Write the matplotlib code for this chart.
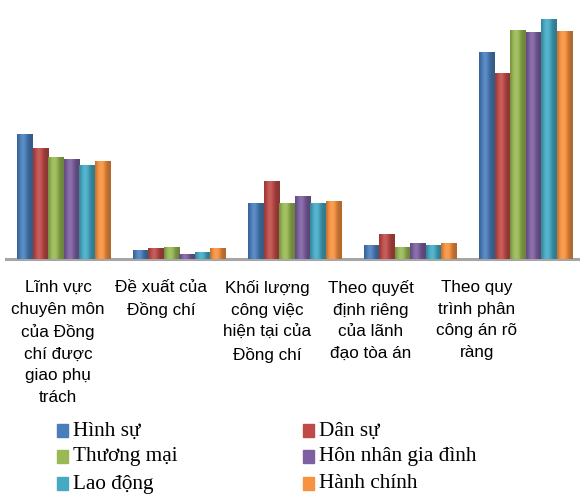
import numpy as np
import matplotlib
matplotlib.use("Agg")
import matplotlib.pyplot as plt
from matplotlib.colors import to_rgb
from matplotlib.patches import Rectangle

# share of answers (%) per basis of case assignment, one list per court type
categories = [
    "Lĩnh vực\nchuyên môn\ncủa Đồng\nchí được\ngiao phụ\ntrách",
    "Đề xuất của\nĐồng chí",
    "Khối lượng\ncông việc\nhiện tại của\nĐồng chí",
    "Theo quyết\nđịnh riêng\ncủa lãnh\nđạo tòa án",
    "Theo quy\ntrình phân\ncông án rõ\nràng",
]
series_names = ["Hình sự", "Dân sự", "Thương mại",
                "Hôn nhân gia đình", "Lao động", "Hành chính"]
hinh_su = [30.6, 2.1, 13.5, 3.2, 50.6]
dan_su = [27.0, 2.5, 19.1, 5.9, 45.5]
thuong_mai = [25.0, 2.7, 13.5, 2.7, 56.1]
hon_nhan = [24.5, 1.0, 15.2, 3.9, 55.4]
lao_dong = [23.0, 1.5, 13.5, 3.2, 58.8]
hanh_chinh = [23.8, 2.5, 14.2, 3.7, 55.8]
values = [hinh_su, dan_su, thuong_mai, hon_nhan, lao_dong, hanh_chinh]

colors = ["#4A7EBB", "#BE4B48", "#98B954", "#7D60A0", "#46AAC5", "#F69240"]


def shade(color, n=40):
    """horizontal cylinder-like gradient for one bar"""
    c = np.array(to_rgb(color))
    t = np.linspace(0, 1, n)
    f = 0.72 + 0.42 * np.exp(-((t - 0.38) / 0.28) ** 2)
    rows = []
    for k in f:
        if k <= 1:
            rows.append(c * k)
        else:
            rows.append(c + (1 - c) * (k - 1) * 0.8)
    return np.clip(np.array(rows), 0, 1)[None, :, :]


W, H = 580, 495
fig = plt.figure(figsize=(W / 100, H / 100), dpi=100)

base_y = 259      # pixel row of the category axis
px_per_unit = 4.08
left_px, group_px = 6, 115.5
ax = fig.add_axes([left_px / W, (H - base_y) / H, (W - left_px) / W, base_y / H])

x = np.arange(len(categories))
n = len(values)
bar_w = 0.805 / n
for i, (vals, col) in enumerate(zip(values, colors)):
    pos = x - 0.805 / 2 + bar_w * (i + 0.5)
    bars = ax.bar(pos, vals, width=bar_w, color=col, zorder=2)
    for b in bars:
        ax.imshow(shade(col), extent=(b.get_x(), b.get_x() + b.get_width(),
                                      0, b.get_height()),
                  aspect="auto", zorder=3, interpolation="bilinear")

ax.set_xlim(-0.5, -0.5 + (W - left_px) / group_px)
ax.set_ylim(0, base_y / px_per_unit)
for s in ["top", "right", "left"]:
    ax.spines[s].set_visible(False)
ax.spines["bottom"].set_color("#A6A6A6")
ax.spines["bottom"].set_linewidth(2.2)
ax.set_yticks([])

# category labels sit a little left of the bar groups
label_px = [58, 161, 267, 371, 477]
ax.set_xticks([(p - left_px) / group_px - 0.5 for p in label_px])
ax.set_xticklabels(categories, fontsize=12.3, linespacing=1.56,
                   family="Liberation Sans", va="top")
ax.tick_params(axis="x", length=0, pad=15)

# legend, two columns filled row by row
row_y = [431, 457, 484]
col_x = [57, 303]
for k, (name, col) in enumerate(zip(series_names, colors)):
    r, c = divmod(k, 2)
    sx, sy = col_x[c], row_y[r]
    fig.patches.append(Rectangle((sx / W, (H - sy - 6) / H), 11 / W, 13 / H,
                                 transform=fig.transFigure, color=col))
    fig.text((sx + 16) / W, (H - sy) / H, name, fontsize=15.3,
             family="Liberation Serif", va="center", ha="left")

fig.savefig("out.png", dpi=100)
